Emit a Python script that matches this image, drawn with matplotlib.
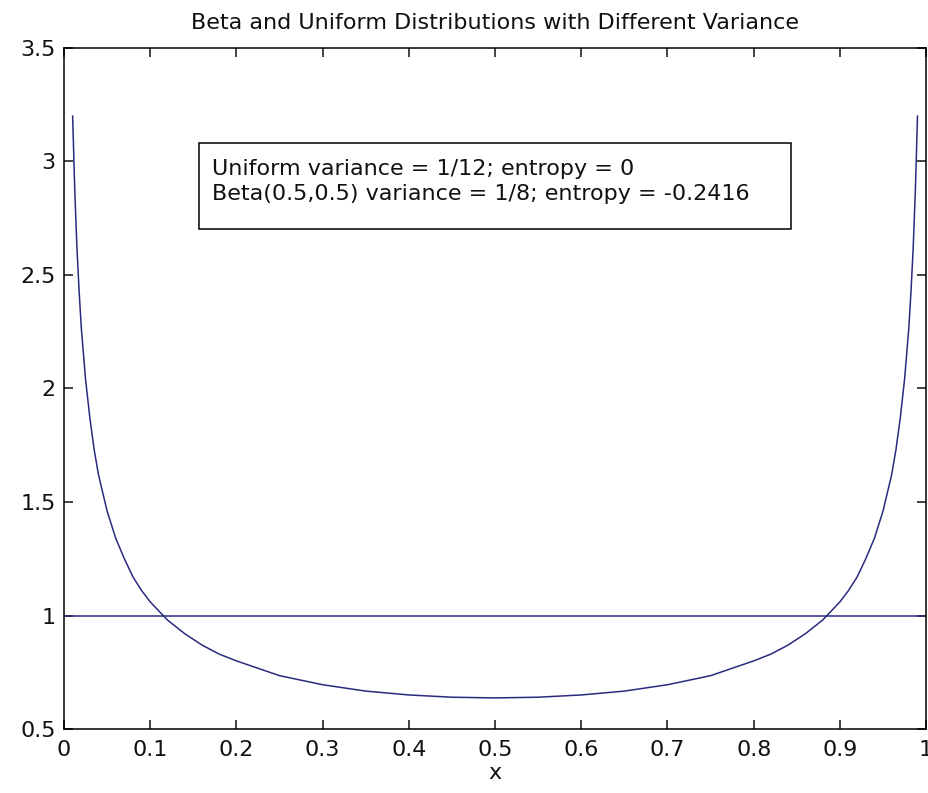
import matplotlib
matplotlib.use("Agg")
import matplotlib.pyplot as plt
from matplotlib.patches import Rectangle

plt.rcParams["font.family"] = ["DejaVu Sans"]

# Beta(0.5,0.5) density (left half, mirrored about x = 0.5)
x_left = [0.01, 0.0125, 0.015, 0.0175, 0.02, 0.025, 0.03, 0.035, 0.04, 0.05,
          0.06, 0.07, 0.08, 0.09, 0.10, 0.12, 0.14, 0.16, 0.18, 0.20,
          0.25, 0.30, 0.35, 0.40, 0.45, 0.50]
y_left = [3.20, 2.87, 2.62, 2.43, 2.27, 2.04, 1.87, 1.73, 1.62, 1.46,
          1.34, 1.25, 1.17, 1.11, 1.06, 0.98, 0.92, 0.87, 0.83, 0.80,
          0.735, 0.695, 0.667, 0.650, 0.640, 0.637]
beta_x = x_left + [1 - v for v in reversed(x_left[:-1])]
beta_y = y_left + list(reversed(y_left[:-1]))

uniform_x = [0, 1]
uniform_y = [1, 1]

xticks = [0, 0.1, 0.2, 0.3, 0.4, 0.5, 0.6, 0.7, 0.8, 0.9, 1]
xticklabels = ["0", "0.1", "0.2", "0.3", "0.4", "0.5", "0.6", "0.7", "0.8", "0.9", "1"]
yticks = [0.5, 1, 1.5, 2, 2.5, 3, 3.5]
yticklabels = ["0.5", "1", "1.5", "2", "2.5", "3", "3.5"]

line_color = "#2a2a80"

fig = plt.figure(figsize=(9.29, 7.93), dpi=100)
ax = fig.add_axes([0.0689, 0.0807, 0.928, 0.8588])

ax.plot(beta_x, beta_y, color=line_color, lw=1.1)
ax.plot(uniform_x, uniform_y, color=line_color, lw=1.1)

ax.set_xlim(0, 1)
ax.set_ylim(0.5, 3.5)
ax.set_xticks(xticks)
ax.set_xticklabels(xticklabels)
ax.set_yticks(yticks)
ax.set_yticklabels(yticklabels)
ax.tick_params(direction="in", length=6.5, width=1.1, top=True, right=True,
               labelsize=16, colors="#111111")
ax.tick_params(axis="x", pad=8)
ax.tick_params(axis="y", pad=6)
for s in ax.spines.values():
    s.set_linewidth(1.1)

ax.set_xlabel("x", fontsize=16, labelpad=2, color="#111111")
ax.set_title("Beta and Uniform Distributions with Different Variance",
             fontsize=16, pad=14, color="#111111")

# annotation box
ax.add_patch(Rectangle((0.1566, 0.7342), 0.6868, 0.1263, transform=ax.transAxes,
                       fill=True, fc="white", ec="black", lw=1.1, zorder=3))
ax.text(0.1717, 0.8135, "Uniform variance = 1/12; entropy = 0",
        transform=ax.transAxes, fontsize=16, va="baseline", ha="left",
        color="#111111", zorder=4)
ax.text(0.1717, 0.7768, "Beta(0.5,0.5) variance = 1/8; entropy = -0.2416",
        transform=ax.transAxes, fontsize=16, va="baseline", ha="left",
        color="#111111", zorder=4)

fig.savefig("out.png", dpi=100)
